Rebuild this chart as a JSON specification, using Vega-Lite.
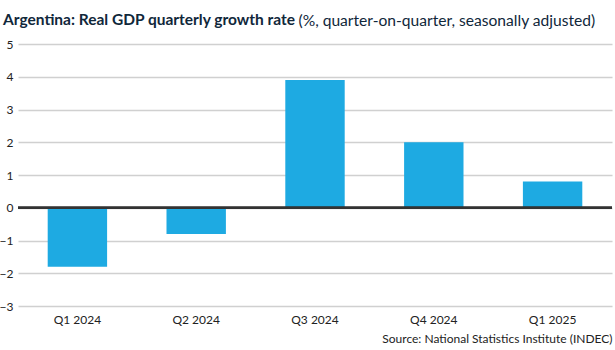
{
  "$schema": "https://vega.github.io/schema/vega-lite/v6.json",
  "width": 594,
  "height": 262,
  "autosize": {"type": "none"},
  "padding": {"left": 18, "top": 44, "right": 3, "bottom": 44},
  "background": "white",
  "title": {
    "text": "Argentina: Real GDP quarterly growth rate",
    "anchor": "start",
    "frame": "group",
    "dx": -15,
    "dy": 15,
    "offset": 0,
    "font": "Lato",
    "fontSize": 15.5,
    "fontWeight": "bold",
    "color": "#10273a"
  },
  "data": {
    "values": [
      {"quarter": "Q1 2024", "growth": -1.8},
      {"quarter": "Q2 2024", "growth": -0.8},
      {"quarter": "Q3 2024", "growth": 3.9},
      {"quarter": "Q4 2024", "growth": 2.0},
      {"quarter": "Q1 2025", "growth": 0.8}
    ]
  },
  "layer": [
    {
      "mark": {"type": "bar", "color": "#1eaae2"},
      "encoding": {
        "x": {
          "field": "quarter",
          "type": "nominal",
          "sort": null,
          "scale": {"paddingInner": 0.5, "paddingOuter": 0.25},
          "axis": {
            "title": "Source: National Statistics Institute (INDEC)",
            "titleAnchor": "end",
            "titleFont": "Lato",
            "titleFontSize": 12,
            "titleFontWeight": "normal",
            "titleColor": "#222222",
            "titlePadding": 8,
            "labelAngle": 0,
            "labelFont": "Lato",
            "labelFontSize": 12,
            "labelColor": "#222222",
            "labelPadding": 8,
            "domain": false,
            "ticks": false
          }
        },
        "y": {
          "field": "growth",
          "type": "quantitative",
          "scale": {"domain": [-3, 5], "nice": false},
          "axis": {
            "values": [-3, -2, -1, 0, 1, 2, 3, 4, 5],
            "labelOverlap": false,
            "title": "(%, quarter-on-quarter, seasonally adjusted)",
            "titleAngle": 0,
            "titleAlign": "left",
            "titleBaseline": "alphabetic",
            "titleX": 280,
            "titleY": -19,
            "titleFont": "Lato",
            "titleFontSize": 15.6,
            "titleFontWeight": "normal",
            "titleColor": "#10273a",
            "labelFont": "Lato",
            "labelFontSize": 12,
            "labelColor": "#222222",
            "labelPadding": 5,
            "domain": false,
            "ticks": false,
            "grid": true,
            "gridColor": "#d0d0d0",
            "gridWidth": 1.5
          }
        }
      }
    },
    {
      "mark": {"type": "rule", "color": "#333333", "strokeWidth": 2},
      "encoding": {"y": {"datum": 0, "axis": {"values": [-3, -2, -1, 0, 1, 2, 3, 4, 5], "labelOverlap": false}}}
    }
  ],
  "config": {"view": {"stroke": null}, "axis": {"labelOverlap": false}, "axisY": {"labelOverlap": false}}
}
